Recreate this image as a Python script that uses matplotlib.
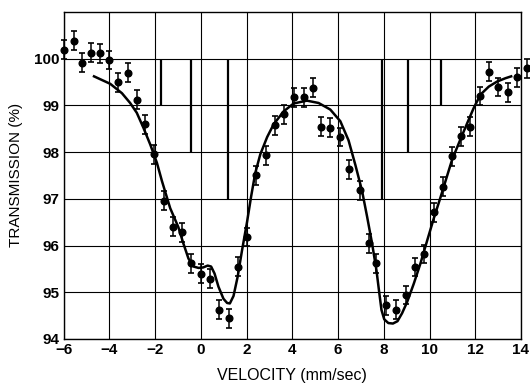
import matplotlib
matplotlib.use("Agg")
from matplotlib import pyplot as plt
import numpy as np

plt.rcParams['font.family'] = ['Liberation Sans', 'DejaVu Sans']

# measured points (velocity mm/sec, transmission %)
vel = [-6.0, -5.54, -5.18, -4.8, -4.4, -4.0, -3.6, -3.19, -2.8, -2.43, -2.03,
       -1.6, -1.22, -0.83, -0.42, 0.0, 0.41, 0.8, 1.23, 1.62, 2.02,
       2.42, 2.86, 3.26, 3.65, 4.09, 4.5, 4.9, 5.26, 5.63, 6.07,
       6.5, 6.94, 7.34, 7.68, 8.11, 8.55, 8.99, 9.38, 9.75, 10.18,
       10.6, 10.99, 11.38, 11.79, 12.2, 12.62, 13.0, 13.42, 13.83, 14.26]
trans = [100.19, 100.38, 99.91, 100.13, 100.11, 99.97, 99.49, 99.70, 99.12, 98.59, 97.95,
         96.96, 96.40, 96.28, 95.62, 95.40, 95.29, 94.63, 94.44, 95.55, 96.18,
         97.50, 97.93, 98.57, 98.81, 99.17, 99.17, 99.38, 98.54, 98.52, 98.32,
         97.63, 97.18, 96.05, 95.62, 94.72, 94.63, 94.94, 95.54, 95.82, 96.71,
         97.26, 97.91, 98.34, 98.54, 99.20, 99.72, 99.39, 99.28, 99.60, 99.79]
err = 0.2

# fitted curve
fit_v = [-4.67, -3.96, -3.45, -3.09, -2.8, -2.51, -2.21, -1.92, -1.7, -1.34, -0.98,
         -0.76, -0.54, -0.32, -0.1, 0.1, 0.3, 0.45, 0.6, 0.77, 0.99, 1.15, 1.27, 1.43, 1.61,
         1.8, 2.02, 2.2, 2.38, 2.6, 2.9, 3.18, 3.62, 4.06, 4.64, 5.15, 5.66, 6.1,
         6.46, 6.76, 7.05, 7.27, 7.49, 7.68, 7.8, 7.9, 8.02, 8.2, 8.4, 8.6, 8.8,
         9.02, 9.31, 9.6, 9.9, 10.18, 10.48, 10.7, 10.99, 11.35, 11.65, 11.93,
         12.23, 12.59, 12.96, 13.32, 13.57]
fit_t = [99.62, 99.46, 99.26, 99.05, 98.84, 98.52, 98.16, 97.77, 97.38, 96.8, 96.39,
         96.04, 95.72, 95.55, 95.52, 95.53, 95.57, 95.55, 95.4, 95.12, 94.86, 94.77, 94.76, 94.92, 95.33,
         95.89, 96.5, 97.05, 97.55, 97.95, 98.32, 98.59, 98.87, 99.04, 99.1, 99.05, 98.91, 98.66,
         98.25, 97.72, 97.17, 96.62, 96.04, 95.47, 95.0, 94.62, 94.42, 94.34, 94.33, 94.38, 94.55,
         94.79, 95.18, 95.61, 96.11, 96.57, 97.03, 97.38, 97.84, 98.27, 98.62, 98.94,
         99.23, 99.4, 99.51, 99.58, 99.62]

# line positions (stick diagram)
stick_v = [-1.76, -0.42, 1.17, 7.93, 9.06, 10.52]
stick_low = [99, 98, 97, 97, 98, 99]

fig = plt.figure(figsize=(5.3, 3.83), dpi=100)
ax = fig.add_axes([0.12, 0.115, 0.863, 0.854])

ax.vlines(stick_v, stick_low, 100, colors='black', linewidth=1.6, zorder=2)
ax.plot(fit_v, fit_t, color='black', linewidth=1.8, zorder=3)
ax.errorbar(vel, trans, yerr=err, fmt='o', color='black', markersize=4.8,
            elinewidth=1.1, capsize=2, capthick=1.2, zorder=4, clip_on=False)

ax.set_xlim(-6, 14)
ax.set_ylim(94, 101)
ax.set_xticks(np.arange(-6, 15, 2))
ax.set_yticks(np.arange(94, 101, 1))
ax.set_xticklabels(['\u22126', '\u22124', '\u22122', '0', '2', '4', '6', '8', '10', '12', '14'])
ax.grid(True, color='black', linewidth=0.8)
ax.set_axisbelow(True)
ax.tick_params(length=0, labelsize=11, pad=3)
for lab in ax.get_xticklabels() + ax.get_yticklabels():
    lab.set_fontweight('bold')
for s in ax.spines.values():
    s.set_linewidth(1.0)

ax.set_xlabel('VELOCITY (mm/sec)', fontsize=11.5, labelpad=8)
ax.set_ylabel('TRANSMISSION (%)', fontsize=11, labelpad=8)

fig.savefig('out.png', dpi=100)
